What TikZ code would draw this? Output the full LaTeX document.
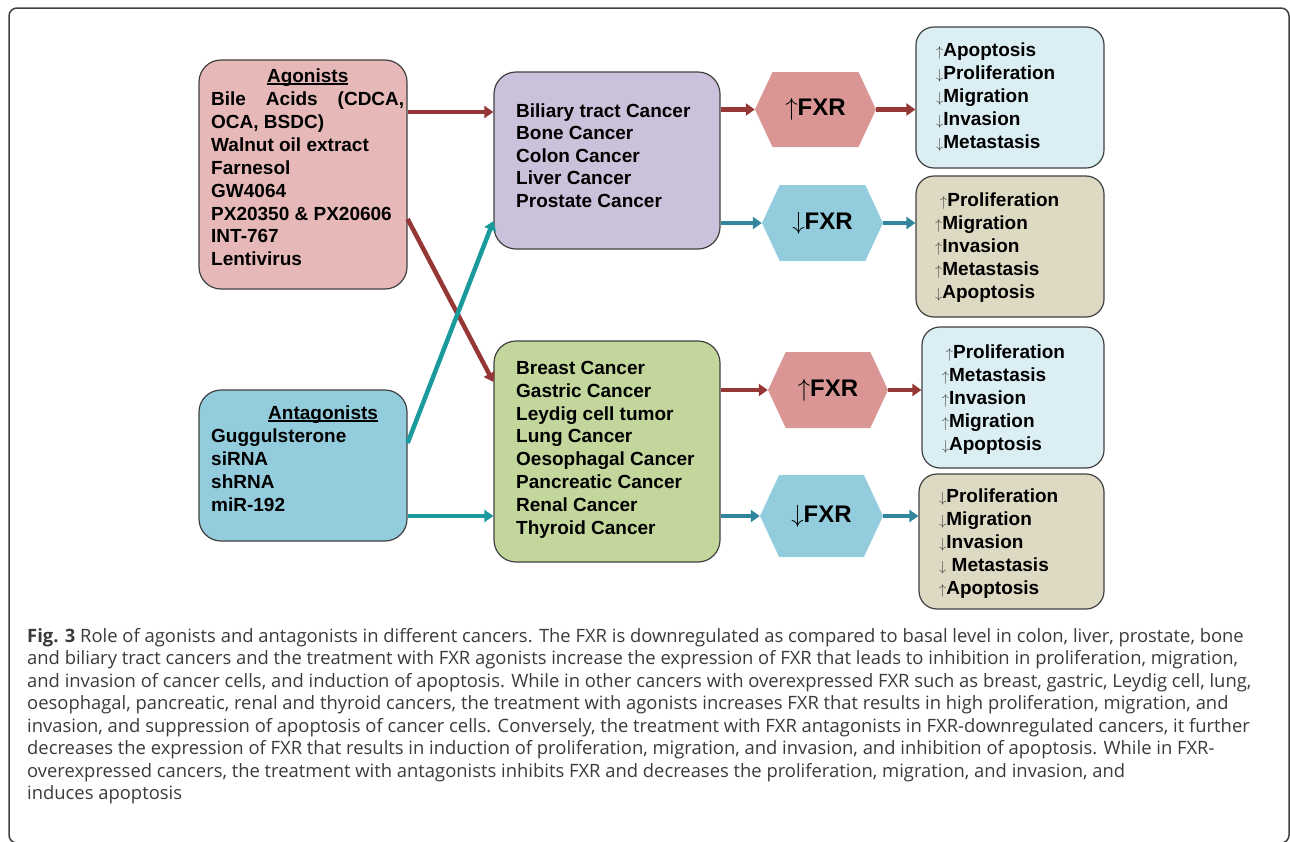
\documentclass[tikz,border=0pt]{standalone}
\usepackage{fontspec}
\setmainfont{Liberation Sans}
\newfontfamily\capfont{Open Sans}
\usetikzlibrary{arrows.meta,shapes.symbols}

\definecolor{agofill}{HTML}{E6B9B8}
\definecolor{antfill}{HTML}{93CDDD}
\definecolor{purfill}{HTML}{CCC1DA}
\definecolor{grnfill}{HTML}{C3D69B}
\definecolor{lbfill}{HTML}{DBEEF4}
\definecolor{tanfill}{HTML}{DDD9C3}
\definecolor{hexred}{HTML}{D99694}
\definecolor{hexblue}{HTML}{93CDDD}
\definecolor{darkred}{HTML}{953735}
\definecolor{crossteal}{HTML}{1A9A9C}
\definecolor{blueteal}{HTML}{31859C}
\definecolor{boxline}{HTML}{404040}
\definecolor{arrgray}{HTML}{444444}
\definecolor{captext}{HTML}{3A3A3A}

\newcommand{\upar}{{\fontsize{14}{14}\selectfont\color{arrgray}$\uparrow$}}
\newcommand{\dnar}{{\fontsize{14}{14}\selectfont\color{arrgray}$\downarrow$}}
\newcommand{\ulined}[1]{\setbox0\hbox{#1}\rlap{\rule[-2.2pt]{\wd0}{1.4pt}}\box0}

\begin{document}
\begin{tikzpicture}[x=1pt, y=-1pt,
	box/.style = {draw=boxline, line width=1.2pt, rounded corners=22pt, inner sep=0pt},
	res/.style = {box, rounded corners=18pt},
	hex/.style = {signal, signal to=east and west, signal pointer angle=130, inner sep=0pt, font=\fontsize{24}{28}\selectfont\bfseries},
	txt/.style = {anchor=north west, inner sep=0pt, align=left, font=\fontsize{19}{22.9}\selectfont\bfseries},
	redarrow/.style = {draw=darkred, line width=4.5pt, -{Triangle[length=9pt,width=12pt]}},
	tealarrow/.style = {draw=crossteal, line width=4.5pt, -{Triangle[length=9pt,width=12pt]}},
	bluearrow/.style = {draw=blueteal, line width=4.5pt, -{Triangle[length=9pt,width=12pt]}}]
	\useasboundingbox (0,0) rectangle (1290,841);
	\begin{scope}
		\clip (0,0) rectangle (1290,841);
		\draw[boxline, line width=1.5pt, rounded corners=8pt] (9,8) rectangle (1289,843);
	\end{scope}

	% treatments
	\node[box, fill=agofill, minimum width=208pt, minimum height=229pt] (ago) at (303,174.5) {};
	\node[box, fill=antfill, minimum width=208pt, minimum height=151pt] (ant) at (303,465.5) {};
	\node[txt] (agotxt) at (211,66.4) {\strut\makebox[193pt]{\ulined{Agonists}}\\
		\makebox[193pt][s]{Bile Acids (CDCA,}\\
		OCA, BSDC)\\
		Walnut oil extract\\
		Farnesol\\
		GW4064\\
		PX20350 \& PX20606\\
		INT-767\\
		Lentivirus};
	\node[txt] (anttxt) at (211,403.3) {\strut\hspace*{57pt}\ulined{Antagonists}\\
		Guggulsterone\\
		siRNA\\
		shRNA\\
		miR-192};

	% cancers
	\node[box, fill=purfill, minimum width=226pt, minimum height=177pt] (pur) at (607,160.5) {};
	\node[box, fill=grnfill, minimum width=226pt, minimum height=221pt] (grn) at (607,451.5) {};
	\node[txt, font=\fontsize{19}{22.4}\selectfont\bfseries] (purtxt) at (516,101.6) {\strut Biliary tract Cancer\\
		Bone Cancer\\
		Colon Cancer\\
		Liver Cancer\\
		Prostate Cancer};
	\node[txt] (grntxt) at (516,358) {\strut Breast Cancer\\
		Gastric Cancer\\
		Leydig cell tumor\\
		Lung Cancer\\
		Oesophagal Cancer\\
		Pancreatic Cancer\\
		Renal Cancer\\
		Thyroid Cancer};

	% FXR level
	\node[hex, fill=hexred, minimum width=121pt, minimum height=75pt] (upA) at (815.5,109.5) {$\uparrow$FXR};
	\node[hex, fill=hexblue, minimum width=121pt, minimum height=76pt] (dnA) at (822.5,223) {$\downarrow$FXR};
	\node[hex, fill=hexred, minimum width=120pt, minimum height=76pt] (upB) at (828,390) {$\uparrow$FXR};
	\node[hex, fill=hexblue, minimum width=123pt, minimum height=82pt] (dnB) at (821.5,516) {$\downarrow$FXR};

	% outcomes
	\node[res, fill=lbfill, minimum width=188pt, minimum height=141pt] (res1) at (1010,97.5) {};
	\node[res, fill=tanfill, minimum width=188pt, minimum height=141pt] (res2) at (1010,246.5) {};
	\node[res, fill=lbfill, minimum width=182pt, minimum height=141pt] (res3) at (1013,397.5) {};
	\node[res, fill=tanfill, minimum width=185pt, minimum height=135pt] (res4) at (1011.5,541.5) {};
	\node[txt] (res1txt) at (936,40.7) {\strut\upar Apoptosis\\
		\dnar Proliferation\\
		\dnar Migration\\
		\dnar Invasion\\
		\dnar Metastasis};
	\node[txt] (res2txt) at (935,190.7) {\strut\hspace*{5pt}\upar Proliferation\\
		\upar Migration\\
		\upar Invasion\\
		\upar Metastasis\\
		\dnar Apoptosis};
	\node[txt] (res3txt) at (941.7,342.3) {\strut\hspace*{4pt}\upar Proliferation\\
		\upar Metastasis\\
		\upar Invasion\\
		\upar Migration\\
		\dnar Apoptosis};
	\node[txt] (res4txt) at (939,486.7) {\strut\dnar Proliferation\\
		\dnar Migration\\
		\dnar Invasion\\
		\dnar{} Metastasis\\
		\upar Apoptosis};

	% connectors
	\draw[redarrow] ([yshift=62.5pt]ago.east) -- (pur.west |- {(0,112)});
	\draw[redarrow] ([yshift=-44.5pt]ago.east) -- ([yshift=69.5pt]grn.west);
	\draw[tealarrow] ([yshift=22.5pt]ant.east) -- ([yshift=-60.5pt]pur.west);
	\draw[tealarrow] (ant.east |- dnB) -- (grn.west |- dnB);

	\draw[redarrow] (pur.east |- upA) -- (upA.west);
	\draw[redarrow] (upA.east) -- (upA.east -| res1.west);
	\draw[bluearrow] (pur.east |- dnA) -- (dnA.west);
	\draw[bluearrow] (dnA.east) -- (dnA.east -| res2.west);

	\draw[redarrow] (grn.east |- upB) -- (upB.west);
	\draw[redarrow] (upB.east) -- (upB.east -| res3.west);
	\draw[bluearrow] (grn.east |- dnB) -- (dnB.west);
	\draw[bluearrow] (dnB.east) -- (dnB.east -| res4.west);

	% caption
	\node[anchor=north west, inner sep=0pt, align=left, text=captext, font=\capfont\fontsize{18.4}{22.5}\selectfont] (caption) at (27,626.3) {\strut\textbf{Fig. 3} Role of agonists and antagonists in different cancers. The FXR is downregulated as compared to basal level in colon, liver, prostate, bone\\
		and biliary tract cancers and the treatment with FXR agonists increase the expression of FXR that leads to inhibition in proliferation, migration,\\
		and invasion of cancer cells, and induction of apoptosis. While in other cancers with overexpressed FXR such as breast, gastric, Leydig cell, lung,\\
		oesophagal, pancreatic, renal and thyroid cancers, the treatment with agonists increases FXR that results in high proliferation, migration, and\\
		invasion, and suppression of apoptosis of cancer cells. Conversely, the treatment with FXR antagonists in FXR-downregulated cancers, it further\\
		decreases the expression of FXR that results in induction of proliferation, migration, and invasion, and inhibition of apoptosis. While in FXR-\\
		overexpressed cancers, the treatment with antagonists inhibits FXR and decreases the proliferation, migration, and invasion, and\\
		induces apoptosis};
\end{tikzpicture}
\end{document}
